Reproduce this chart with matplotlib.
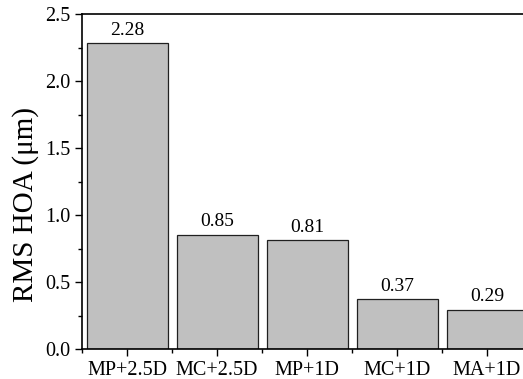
import matplotlib.pyplot as plt
from matplotlib.ticker import MultipleLocator, FixedLocator

categories = ['MP+2.5D', 'MC+2.5D', 'MP+1D', 'MC+1D', 'MA+1D']
values = [2.28, 0.85, 0.81, 0.37, 0.29]

plt.rcParams['font.family'] = ['Liberation Serif', 'DejaVu Serif']

fig = plt.figure(figsize=(5.23, 3.79), dpi=100)
ax = fig.add_axes([82 / 523, 30 / 379, 450 / 523, 335 / 379])

x = range(len(categories))
ax.bar(x, values, width=0.9, color='#c0c0c0', edgecolor='#202020', linewidth=0.9)

for xi, v in zip(x, values):
    ax.text(xi, v + 0.035, f'{v:.2f}', ha='center', va='bottom', fontsize=14)

ax.set_xlim(-0.5, 4.5)
ax.set_ylim(0, 2.5)
ax.set_xticks(list(x))
ax.set_xticklabels(categories, fontsize=14.5)
ax.xaxis.set_minor_locator(FixedLocator([i - 0.5 for i in range(6)]))
ax.yaxis.set_major_locator(MultipleLocator(0.5))
ax.yaxis.set_minor_locator(MultipleLocator(0.25))
ax.yaxis.set_major_formatter(plt.FormatStrFormatter('%.1f'))
ax.tick_params(axis='y', labelsize=14.5)
ax.tick_params(which='major', direction='out', length=5, width=1)
ax.tick_params(which='minor', direction='out', length=3, width=1)
ax.spines['right'].set_visible(False)
for s in ['left', 'bottom', 'top']:
    ax.spines[s].set_linewidth(1.2)

ax.set_ylabel('RMS HOA (μm)', fontsize=21)
ax.yaxis.set_label_coords(-0.096, 0.43)

plt.savefig('out.png', dpi=100)
